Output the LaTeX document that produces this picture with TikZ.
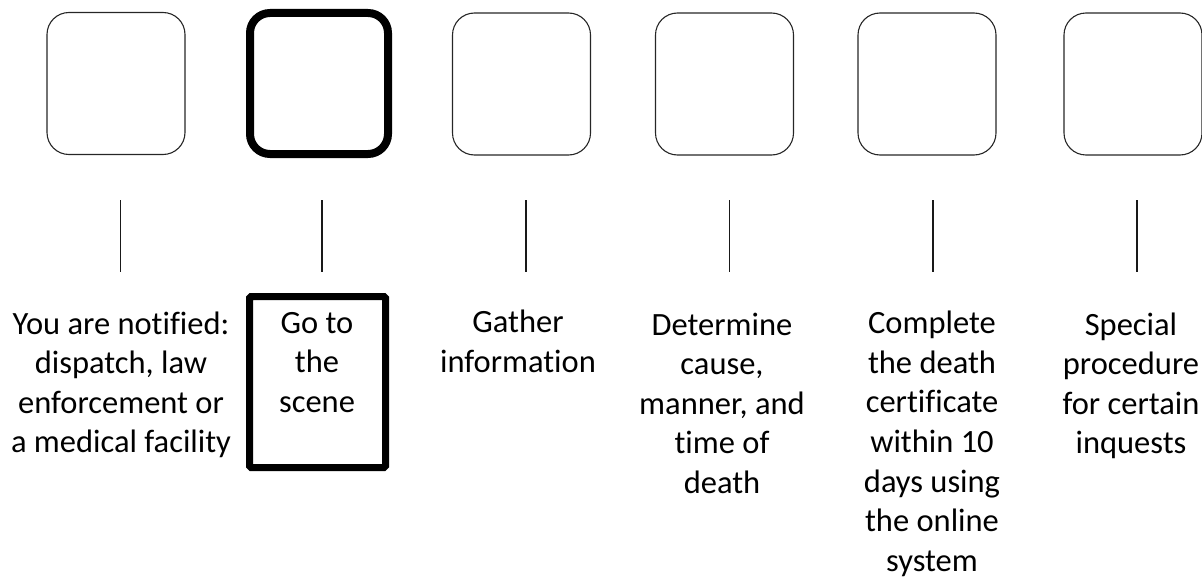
\documentclass[tikz,border=0pt]{standalone}
\usepackage{fontspec}
\setmainfont{Carlito}[Ligatures=NoCommon]
\begin{document}
\begin{tikzpicture}[x=1pt,y=-1pt,
  stepbox/.style={draw=black!85,line width=1.1pt,rounded corners=22pt,minimum width=138pt,minimum height=142pt,inner sep=0pt},
  boldbox/.style={draw=black,line width=8pt,rounded corners=20pt,minimum width=138pt,minimum height=141pt,inner sep=0pt},
  steptext/.style={align=center,inner sep=0pt,anchor=base,font=\fontsize{32.5}{39.6}\selectfont},
  frame/.style={draw=black,line width=7pt,rounded corners=1.5pt,minimum width=136pt,minimum height=171pt,inner sep=0pt},
  link/.style={draw=black!90,line width=1.1pt}]
\useasboundingbox (0,0) rectangle (1202,578);
% top rounded squares
\node[stepbox] (b1) at (116,83.5) {};
\node[boldbox] (b2) at (319,83.5) {};
\node[stepbox] (b3) at (521.5,84) {};
\node[stepbox] (b4) at (724.5,84) {};
\node[stepbox] (b5) at (927,84) {};
\node[stepbox] (b6) at (1133,84) {};
% vertical lines
\foreach \i/\x in {1/120.5,2/322,3/526,4/729.5,5/933,6/1137}{
  \coordinate (u\i) at (\x,200);
  \coordinate (d\i) at (\x,272);
  \draw[link] (u\i) -- (d\i);
}
% frame around second text
\node[frame] (f2) at (317.5,382) {};
% texts (anchor = baseline of last line)
\node[steptext] (t1) at (121,452.8) {You are notified:\\dispatch, law\\enforcement or\\a medical facility};
\node[steptext] (t2) at (317,412.2) {Go to\\the\\scene};
\node[steptext] (t3) at (518,372.4) {Gather\\information};
\node[steptext] (t4) at (722,493.4) {Determine\\cause,\\manner, and\\time of\\death};
\node[steptext] (t5) at (932,571.2) {Complete\\the death\\certificate\\within 10\\days using\\the online\\system};
\node[steptext] (t6) at (1131,453.8) {Special\\procedure\\for certain\\inquests};
\end{tikzpicture}
\end{document}
